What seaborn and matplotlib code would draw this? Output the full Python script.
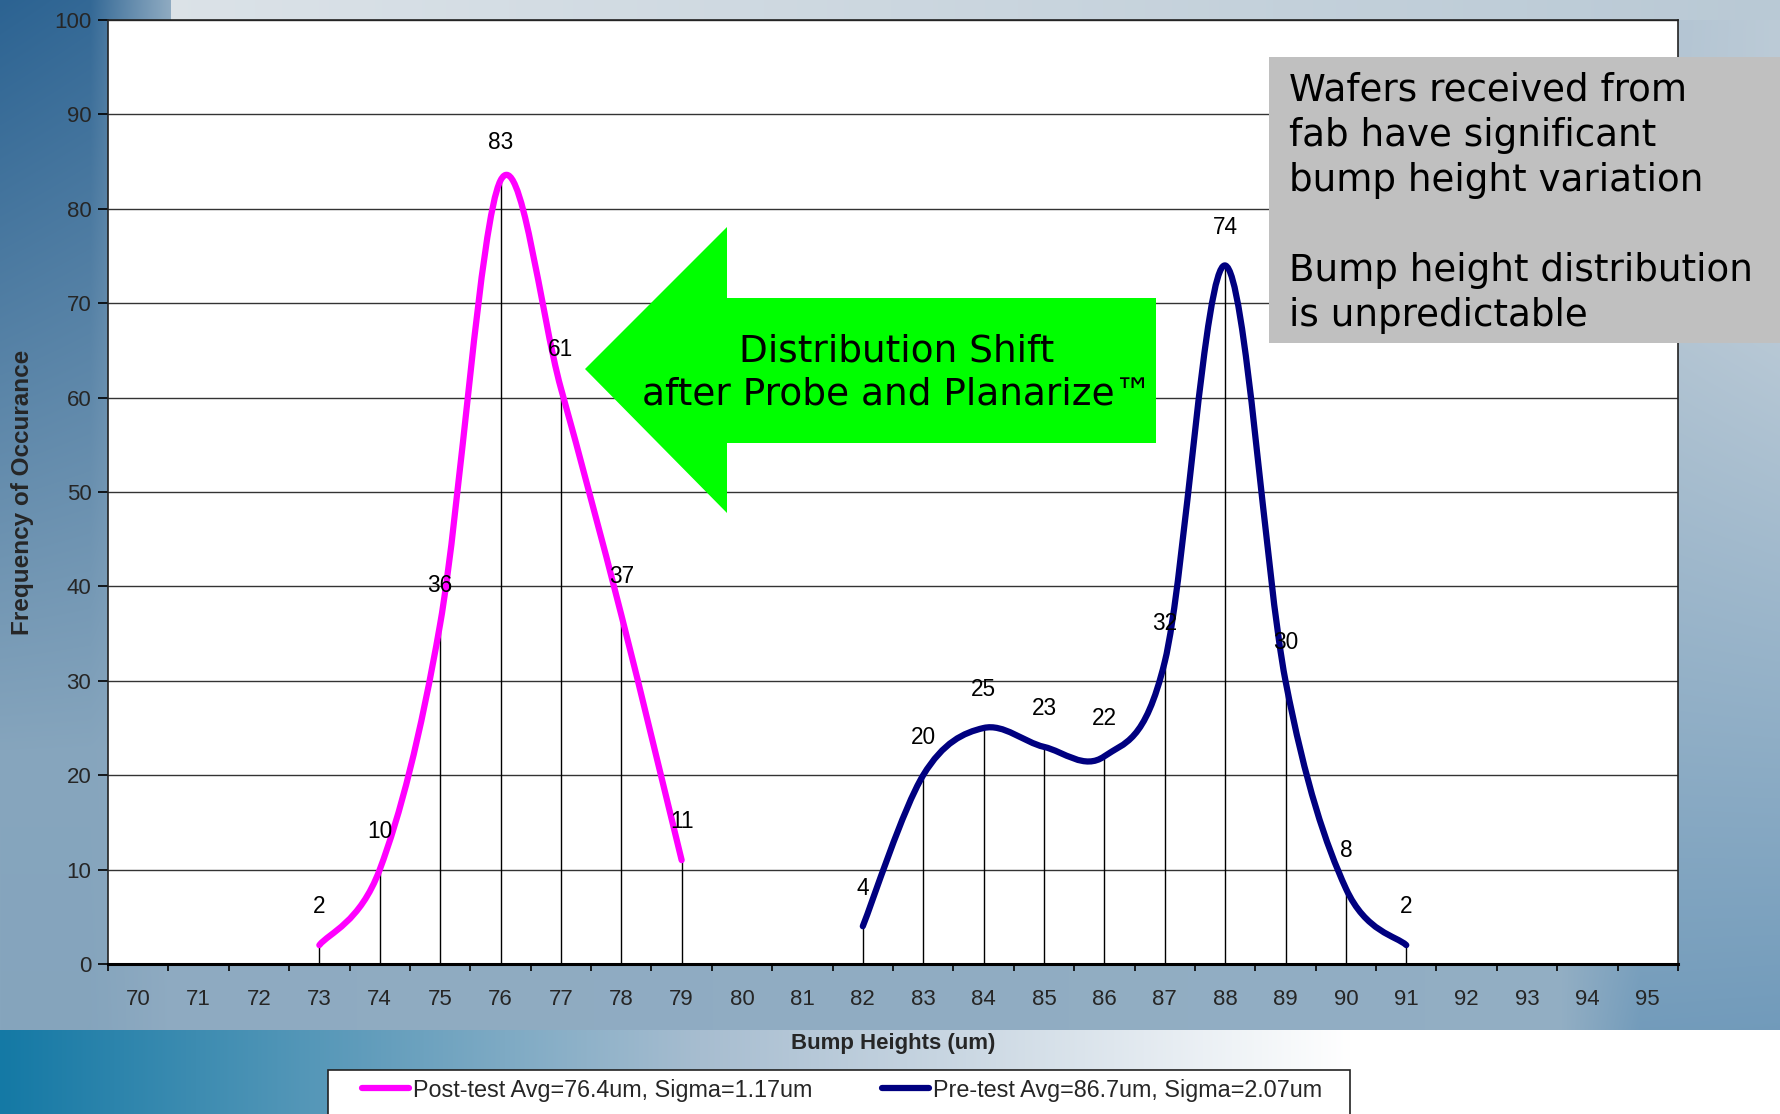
import numpy as np
import pandas as pd
import matplotlib
matplotlib.use("Agg")
import matplotlib.pyplot as plt
import seaborn as sns
from matplotlib.path import Path
from matplotlib.patches import PathPatch, Polygon, Rectangle
from matplotlib.lines import Line2D
from matplotlib.colors import to_rgb

# ---------------- data ----------------
categories = list(range(70, 96))
post_x = [73, 74, 75, 76, 77, 78, 79]
post_y = [2, 10, 36, 83, 61, 37, 11]
pre_x = [82, 83, 84, 85, 86, 87, 88, 89, 90, 91]
pre_y = [4, 20, 25, 23, 22, 32, 74, 30, 8, 2]
y_ticks = list(range(0, 101, 10))
post_label = "Post-test Avg=76.4um, Sigma=1.17um"
pre_label = "Pre-test Avg=86.7um, Sigma=2.07um"
x_title = "Bump Heights (um)"
y_title = "Frequency of Occurance"
arrow_text = "Distribution Shift\nafter Probe and Planarize\u2122"
box_text = ("Wafers received from\nfab have significant\nbump height variation\n\n"
            "Bump height distribution\nis unpredictable")

POST_COLOR = "#ff00ff"
PRE_COLOR = "#000080"

sns.set_style("white")
plt.rcParams["font.family"] = ["Liberation Sans", "DejaVu Sans"]

W, H = 1781, 1114
fig = plt.figure(figsize=(W / 100, H / 100), dpi=100)

# ---------------- background ----------------
yy, xx = np.mgrid[0:H, 0:W].astype(float)


def lerp(c1, c2, t):
    t = np.clip(t, 0, 1)[..., None]
    return np.array(to_rgb(c1)) * (1 - t) + np.array(to_rgb(c2)) * t


left_col = lerp("#2c6392", "#86a5bd", yy / 750)
right_col = lerp("#bccbd7", "#6a96b8", (yy - 300) / 800)
tx = np.clip(xx / W, 0, 1)[..., None]
bg = left_col * (1 - tx) + right_col * tx
mid = lerp("#8eaac1", "#93afc4", xx / W)
wmid = np.clip((xx - 90) / 80, 0, 1) * np.clip((1640 - xx) / 80, 0, 1)
bg = bg * (1 - wmid[..., None]) + mid * wmid[..., None]
top = lerp("#dfe5ea", "#b9c9d5", xx / W)
top_mask = (yy < 20) & (xx > 170)
bg[top_mask] = top[top_mask]
band = np.where((xx < 700)[..., None],
                lerp("#1479a5", "#a7bdd0", xx / 700),
                lerp("#a7bdd0", "#ffffff", (xx - 700) / 650))
band_mask = yy >= 1030
bg[band_mask] = band[band_mask]

bgax = fig.add_axes([0, 0, 1, 1], zorder=-10)
bgax.imshow(bg, extent=[0, 1, 0, 1], aspect="auto", origin="upper", interpolation="bilinear")
bgax.set_axis_off()

# ---------------- main axes ----------------
L, R, T, B = 108, 1678, 20, 964
ax = fig.add_axes([L / W, 1 - B / H, (R - L) / W, (B - T) / H])
ax.set_facecolor("white")
ax.set_xlim(categories[0] - 0.5, categories[-1] + 0.5)
ax.set_ylim(0, 100)

ax.set_yticks(y_ticks)
ax.yaxis.grid(True, color="#333333", lw=1.0, zorder=0)
ax.xaxis.grid(False)
ax.set_axisbelow(True)

# drop lines drawn through seaborn
all_x = post_x + pre_x
all_y = post_y + pre_y
drops = pd.DataFrame({
    "x": np.repeat(all_x, 2),
    "y": np.ravel(np.column_stack([np.zeros(len(all_y)), all_y])),
    "id": np.repeat(np.arange(len(all_x)), 2),
})
sns.lineplot(data=drops, x="x", y="y", units="id", estimator=None, sort=False,
             color="black", lw=1.0, ax=ax, legend=False, zorder=2)


def smooth_patch(xv, yv, color):
    xv = np.asarray(xv, float)
    yv = np.asarray(yv, float)
    n = len(xv)
    verts = [(xv[0], yv[0])]
    codes = [Path.MOVETO]
    for i in range(n - 1):
        i0 = max(i - 1, 0)
        i3 = min(i + 2, n - 1)
        c1 = (xv[i] + (xv[i + 1] - xv[i0]) / 6, yv[i] + (yv[i + 1] - yv[i0]) / 6)
        c2 = (xv[i + 1] - (xv[i3] - xv[i]) / 6, yv[i + 1] - (yv[i3] - yv[i]) / 6)
        verts += [c1, c2, (xv[i + 1], yv[i + 1])]
        codes += [Path.CURVE4] * 3
    return PathPatch(Path(verts, codes), fill=False, edgecolor=color, lw=4.5,
                     capstyle="round", joinstyle="round", zorder=4)


ax.add_patch(smooth_patch(post_x, post_y, POST_COLOR))
ax.add_patch(smooth_patch(pre_x, pre_y, PRE_COLOR))

for xv, yv in zip(all_x, all_y):
    ax.annotate(str(yv), (xv, yv), xytext=(0, 27.5), textcoords="offset points",
                ha="center", va="center", fontsize=16.3, color="black", zorder=5)

ax.set_xticks([c - 0.5 for c in categories] + [categories[-1] + 0.5])
ax.set_xticklabels([])
ax.set_xticks(categories, minor=True)
ax.set_xticklabels([str(c) for c in categories], minor=True, fontsize=16)
ax.tick_params(axis="x", which="major", direction="out", length=5, width=1.2, color="black", bottom=True)
ax.tick_params(axis="x", which="minor", length=0, pad=18)
ax.set_yticklabels([str(v) for v in y_ticks], fontsize=16)
ax.tick_params(axis="y", direction="out", length=7, width=1.2, color="black", pad=5, left=True)

for s in ["top", "right", "left"]:
    ax.spines[s].set_color("#222222")
    ax.spines[s].set_linewidth(1.2)
ax.spines["bottom"].set_color("black")
ax.spines["bottom"].set_linewidth(2.2)

ax.set_xlabel(x_title, fontsize=16, fontweight="bold")
ax.set_ylabel(y_title, fontsize=17.5, fontweight="bold")
ax.xaxis.set_label_coords(0.5, (B - 1043) / (B - T))
ax.xaxis.label.set_va("center")
ax.yaxis.set_label_coords((23 - L) / (R - L), 0.5)
ax.yaxis.label.set_va("center")
ax.yaxis.label.set_ha("center")


def fx(px):
    return px / W


def fy(py):
    return 1 - py / H


# ---------------- green arrow ----------------
arrow_pts = [(585, 369), (727, 227), (727, 298), (1156, 298), (1156, 443),
             (727, 443), (727, 513)]
fig.add_artist(Polygon([(fx(a), fy(b)) for a, b in arrow_pts], closed=True,
                       facecolor="#00ff00", edgecolor="none", transform=fig.transFigure, zorder=5))
fig.text(fx(897), fy(373), arrow_text, ha="center", va="center", multialignment="center",
         fontsize=27, family=["DejaVu Sans"], color="black", zorder=6, linespacing=1.25)

# ---------------- gray text box ----------------
fig.add_artist(Rectangle((fx(1269), fy(343)), fx(1781) - fx(1269), fy(57) - fy(343),
                         facecolor="#c0c0c0", edgecolor="none", transform=fig.transFigure, zorder=5))
fig.text(fx(1289), fy(203), box_text, ha="left", va="center", multialignment="left",
         fontsize=26.8, family=["DejaVu Sans"], color="black", zorder=6, linespacing=1.28)

# ---------------- legend ----------------
fig.add_artist(Rectangle((fx(328), fy(1120)), fx(1350) - fx(328), fy(1070) - fy(1120),
                         facecolor="white", edgecolor="#222222", lw=1.2,
                         transform=fig.transFigure, zorder=5))
handles = [Line2D([], [], color=POST_COLOR, lw=4.5, solid_capstyle="round"),
           Line2D([], [], color=PRE_COLOR, lw=4.5, solid_capstyle="round")]
leg = fig.legend(handles, [post_label, pre_label], loc="center left",
                 bbox_to_anchor=(fx(362), fy(1090)), ncol=2, frameon=False,
                 borderaxespad=0, borderpad=0, handlelength=2.0, handletextpad=0.2,
                 columnspacing=2.95, fontsize=16.85)
leg.set_zorder(7)

fig.savefig("out.png", dpi=100)
